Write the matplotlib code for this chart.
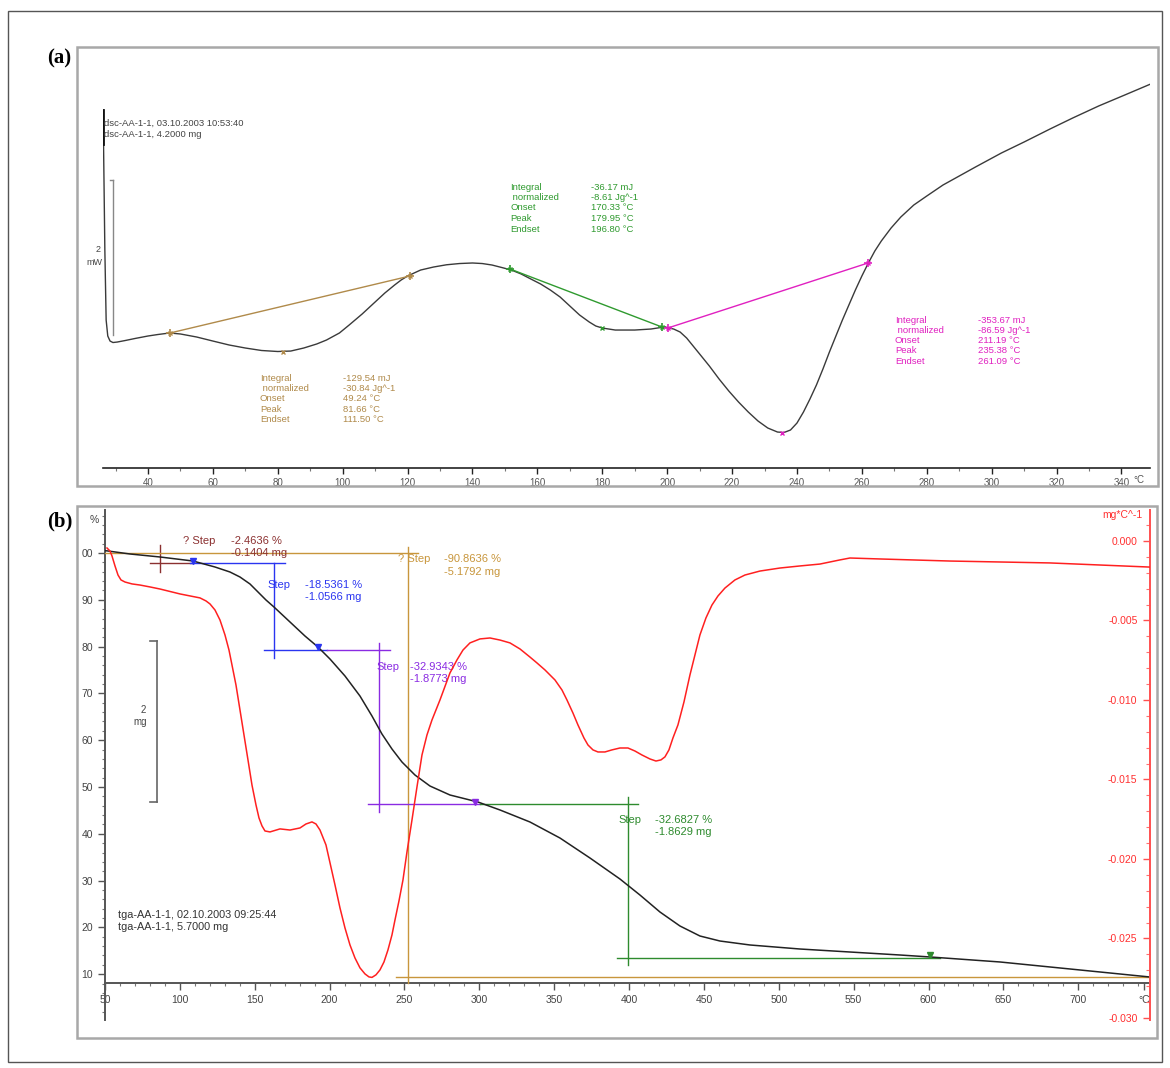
import matplotlib
matplotlib.use("Agg")
import matplotlib.pyplot as plt
from matplotlib.patches import Rectangle
from matplotlib.ticker import MultipleLocator

plt.rcParams['font.family'] = ['Liberation Sans', 'DejaVu Sans']

# ---------------- data: panel (a) DSC ----------------
dsc_T = [26.2, 26.3, 26.7, 27.1, 27.6, 28.3, 29.2, 30.5, 33, 36, 40, 43, 46.7, 50, 55, 60, 65,
         70, 75, 80, 84, 88, 92, 95, 99, 102, 106, 110, 113, 116, 118, 120, 124, 128, 132,
         136, 140, 143, 146, 149, 152, 155, 158, 161, 164, 167, 170, 173, 176, 178, 180, 184,
         190, 195, 199, 202, 204, 206, 208, 210, 213, 216, 219, 222, 225, 228, 231, 234, 236,
         238, 240, 242, 244, 246, 248, 250, 252, 254, 256, 258, 260, 262, 264, 266, 269, 272,
         276, 280, 285, 290, 295, 303, 310, 318, 325, 333, 341, 349]
dsc_mW = [3.742, 3.290, 1.935, 1.032, 0.826, 0.761, 0.742, 0.748, 0.768, 0.794, 0.826, 0.845,
          0.865, 0.852, 0.813, 0.761, 0.710, 0.671, 0.639, 0.626, 0.632, 0.671, 0.723, 0.774,
          0.865, 0.968, 1.110, 1.265, 1.381, 1.484, 1.548, 1.600, 1.677, 1.716, 1.745, 1.761,
          1.768, 1.761, 1.742, 1.710, 1.677, 1.626, 1.561, 1.497, 1.419, 1.329, 1.213, 1.097,
          1.006, 0.955, 0.929, 0.903, 0.903, 0.916, 0.942, 0.916, 0.877, 0.800, 0.697, 0.594,
          0.439, 0.271, 0.116, -0.026, -0.155, -0.271, -0.361, -0.413, -0.419, -0.387, -0.297,
          -0.155, 0.013, 0.194, 0.400, 0.619, 0.826, 1.032, 1.226, 1.419, 1.600, 1.768, 1.923,
          2.052, 2.219, 2.361, 2.516, 2.632, 2.774, 2.890, 3.006, 3.187, 3.329, 3.497, 3.639,
          3.794, 3.935, 4.077]

base_brown_T = [46.8, 120.7]
base_brown_mW = [0.865, 1.600]
base_green_T = [151.6, 198.4]
base_green_mW = [1.690, 0.942]
base_pink_T = [200.2, 261.9]
base_pink_mW = [0.929, 1.768]
peak_T = [81.7, 180.0, 235.4]
peak_mW = [0.626, 0.929, -0.419]

ann_keys = ["Integral", " normalized", "Onset", "Peak", "Endset"]
ann_brown = ["-129.54 mJ", "-30.84 Jg^-1", "49.24 °C", "81.66 °C", "111.50 °C"]
ann_green = ["-36.17 mJ", "-8.61 Jg^-1", "170.33 °C", "179.95 °C", "196.80 °C"]
ann_pink = ["-353.67 mJ", "-86.59 Jg^-1", "211.19 °C", "235.38 °C", "261.09 °C"]

dsc_xticks = list(range(40, 341, 20))

# ---------------- data: panel (b) TGA / DTG ----------------
tga_T = [50, 52.0, 66.69, 86.73, 108.76, 123.46, 133.47, 140.15, 146.83, 152.17, 157.51,
         162.85, 173.54, 183.56, 192.24, 200.25, 210.27, 220.28, 228.30, 234.97, 241.65,
         248.33, 257.01, 267.03, 280.38, 299.08, 313.78, 333.81, 353.84, 373.87, 393.91,
         407.26, 420.62, 433.97, 447.33, 460.68, 480.72, 514.11, 547.50, 580.89, 600.92,
         647.67, 701.09, 747.83]
tga_pct = [100.5, 100.43, 99.79, 99.15, 98.29, 97.01, 95.94, 94.87, 93.38, 91.67, 89.96,
           88.46, 85.26, 82.26, 79.91, 77.35, 73.72, 69.44, 65.17, 61.32, 58.12, 55.34, 52.56,
           50.21, 48.29, 46.79, 45.09, 42.52, 39.10, 34.83, 30.34, 26.92, 23.29, 20.30, 18.16,
           17.09, 16.24, 15.38, 14.74, 14.10, 13.68, 12.61, 10.90, 9.40]

dtg_T = [51.34, 53.34, 54.67, 56.68, 58.68, 60.68, 63.36, 68.03, 73.37, 80.05, 86.73, 100.08,
         113.44, 117.45, 120.12, 123.46, 126.79, 130.13, 132.81, 134.81, 137.48, 140.15,
         142.82, 145.49, 148.16, 150.83, 152.84, 154.84, 156.84, 160.18, 166.86, 173.54,
         180.22, 184.22, 188.23, 190.90, 193.57, 197.58, 203.59, 206.93, 210.27, 213.61,
         216.95, 220.28, 223.62, 226.29, 228.30, 230.97, 233.64, 236.31, 238.98, 241.65,
         243.66, 246.33, 249.00, 251.67, 255.01, 258.35, 261.69, 265.03, 268.36, 273.71,
         280.38, 285.06, 289.07, 293.74, 300.42, 307.10, 313.78, 320.45, 327.13, 333.81,
         338.48, 343.82, 350.50, 355.18, 358.52, 362.52, 365.86, 369.87, 372.54, 375.88,
         379.22, 383.89, 388.56, 393.91, 399.25, 403.92, 408.60, 413.94, 417.95, 421.29,
         423.96, 426.63, 429.30, 432.64, 436.65, 440.65, 443.99, 447.33, 451.34, 455.34,
         459.35, 464.02, 470.70, 477.38, 487.40, 500.75, 514.11, 527.47, 540.82, 547.50,
         567.53, 614.27, 681.05, 747.83]
dtg_val = [-0.00044, -0.00063, -0.00094, -0.00157, -0.00214, -0.00245, -0.00258, -0.00270,
           -0.00277, -0.00289, -0.00302, -0.00333, -0.00358, -0.00377, -0.00396, -0.00434,
           -0.00497, -0.00591, -0.00686, -0.00780, -0.00906, -0.01063, -0.01220, -0.01377,
           -0.01535, -0.01660, -0.01742, -0.01792, -0.01824, -0.01830, -0.01811, -0.01818,
           -0.01805, -0.01780, -0.01767, -0.01780, -0.01818, -0.01912, -0.02163, -0.02308,
           -0.02434, -0.02541, -0.02623, -0.02685, -0.02723, -0.02742, -0.02745, -0.02729,
           -0.02698, -0.02648, -0.02572, -0.02478, -0.02384, -0.02264, -0.02132, -0.01956,
           -0.01755, -0.01547, -0.01346, -0.01220, -0.01126, -0.01000, -0.00830, -0.00748,
           -0.00686, -0.00641, -0.00616, -0.00610, -0.00623, -0.00641, -0.00679, -0.00730,
           -0.00767, -0.00811, -0.00874, -0.00937, -0.01000, -0.01082, -0.01157, -0.01239,
           -0.01283, -0.01314, -0.01327, -0.01327, -0.01314, -0.01302, -0.01302, -0.01321,
           -0.01346, -0.01371, -0.01384, -0.01377, -0.01358, -0.01314, -0.01239, -0.01157,
           -0.01013, -0.00843, -0.00717, -0.00591, -0.00484, -0.00403, -0.00346, -0.00296,
           -0.00245, -0.00214, -0.00189, -0.00170, -0.00157, -0.00145, -0.00119, -0.00107,
           -0.00113, -0.00126, -0.00138, -0.00164]

# step evaluation construction lines (T, %)
step_q_lines = [([86.7, 86.7], [101.7, 95.9]), ([80.0, 108.8], [97.86, 97.86])]
step_orange_lines = [([46.7, 259.0], [100.0, 100.0]), ([252.3, 252.3], [101.3, 8.2]),
                     ([244.3, 747.8], [9.4, 9.4])]
step_blue_lines = [([106.8, 170.2], [97.86, 97.86]), ([162.9, 162.9], [97.86, 77.6]),
                   ([156.2, 198.2], [79.27, 79.27])]
step_purple_lines = [([198.2, 240.3], [79.27, 79.27]), ([233.0, 233.0], [80.8, 44.7]),
                     ([225.6, 300.4], [46.4, 46.4])]
step_green_lines = [([300.4, 405.9], [46.4, 46.4]), ([399.2, 399.2], [47.9, 12.0]),
                    ([391.9, 607.6], [13.46, 13.46])]
step_markers_T = [108.8, 192.2, 297.1, 600.9]
step_markers_pct = [98.3, 79.9, 46.8, 14.1]

tga_xticks = list(range(50, 701, 50))
tga_yticks = list(range(10, 101, 10))
tga_ylabels = [str(v) for v in tga_yticks[:-1]] + ["00"]
dtg_yticks = [0.0, -0.005, -0.010, -0.015, -0.020, -0.025, -0.030]

# ---------------- figure ----------------
W, H = 1170, 1068
fig = plt.figure(figsize=(W / 100, H / 100), dpi=100)


def frect(x0, y0, x1, y1):
    return [x0 / W, 1 - y1 / H, (x1 - x0) / W, (y1 - y0) / H]


def box(x0, y0, x1, y1, color, lw):
    r = frect(x0, y0, x1, y1)
    fig.add_artist(Rectangle((r[0], r[1]), r[2], r[3], transform=fig.transFigure,
                             fill=False, edgecolor=color, linewidth=lw))


box(8, 11, 1162, 1062, '#555555', 1.0)
box(77, 47, 1158, 486, '#a8a8a8', 1.8)
box(77, 506, 1157, 1038, '#a8a8a8', 1.8)

fig.text(47 / W, 1 - 58 / H, "(a)", family='Liberation Serif', fontweight='bold',
         fontsize=15, va='center', ha='left')
fig.text(47 / W, 1 - 521 / H, "(b)", family='Liberation Serif', fontweight='bold',
         fontsize=15, va='center', ha='left')

tick_col = '#555555'

# ---------------- panel (a) ----------------
axA = fig.add_axes(frect(103, 50, 1150, 468))
axA.set_xlim(26.13, 348.8)
axA.set_ylim(-0.877, 4.516)
for s in ['top', 'right', 'left']:
    axA.spines[s].set_visible(False)
axA.spines['bottom'].set_color('#222222')
axA.spines['bottom'].set_linewidth(1.2)
axA.set_yticks([])
axA.set_xticks(dsc_xticks)
axA.xaxis.set_minor_locator(MultipleLocator(10))
axA.tick_params(axis='x', which='major', direction='out', length=4, width=1,
                colors='#222222', labelcolor=tick_col, labelsize=7, pad=3)
axA.tick_params(axis='x', which='minor', direction='out', length=2, width=0.8, colors='#777777')
axA.set_xticklabels([str(v) for v in dsc_xticks])
axA.text(343.8, -1.03, "°C", color=tick_col, fontsize=7, ha='left', va='center', clip_on=False)

axA.plot(dsc_T, dsc_mW, color='#3a3a3a', lw=1.0)
brown, green, pink = '#b08a4a', '#2f9a2f', '#e020c0'
axA.plot(base_brown_T, base_brown_mW, color=brown, lw=1.0)
axA.plot(base_green_T, base_green_mW, color=green, lw=1.0)
axA.plot(base_pink_T, base_pink_mW, color=pink, lw=1.0)
for xs, ys, c in [(base_brown_T, base_brown_mW, brown), (base_green_T, base_green_mW, green),
                  (base_pink_T, base_pink_mW, pink)]:
    axA.plot(xs, ys, ls='none', marker='+', ms=6, mew=1.2, color=c)
    axA.plot(xs, ys, ls='none', marker='x', ms=3, mew=1.0, color=c)
axA.plot(peak_T[0], peak_mW[0], ls='none', marker='x', ms=3, color=brown)
axA.plot(peak_T[1], peak_mW[1], ls='none', marker='x', ms=3, color=green)
axA.plot(peak_T[2], peak_mW[2], ls='none', marker='x', ms=3, color=pink)

# scale bar 2 mW
axA.plot([29.2, 29.2], [2.839, 0.839], color='#888888', lw=1.0, clip_on=False)
axA.plot([28.2, 29.2], [2.839, 2.839], color='#888888', lw=1.0, clip_on=False)
axA.plot([26.2, 26.2], [3.742, 3.30], color='#111111', lw=2.0)
axA.text(24.6, 1.94, "2", fontsize=6.5, color='#444444', ha='center', va='center')
axA.text(23.6, 1.78, "mW", fontsize=6.5, color='#444444', ha='center', va='center')

axA.text(26.5, 3.574, "dsc-AA-1-1, 03.10.2003 10:53:40", fontsize=6.8, color='#444444', va='center')
axA.text(26.5, 3.432, "dsc-AA-1-1, 4.2000 mg", fontsize=6.8, color='#444444', va='center')

rows_green = [2.748, 2.619, 2.490, 2.348, 2.206]
rows_brown = [0.284, 0.155, 0.026, -0.116, -0.245]
rows_pink = [1.032, 0.903, 0.774, 0.645, 0.503]
for (kx, vx, rows, vals, c) in [(151.6, 176.6, rows_green, ann_green, green),
                                (74.5, 100.0, rows_brown, ann_brown, brown),
                                (270.2, 295.8, rows_pink, ann_pink, pink)]:
    for k, v, r in zip(ann_keys, vals, rows):
        axA.text(kx, r, k, fontsize=6.8, color=c, va='center', ha='left')
        axA.text(vx, r, v, fontsize=6.8, color=c, va='center', ha='left')

# ---------------- panel (b) ----------------
axB = fig.add_axes(frect(105, 510, 1150, 1020))
axB.set_xlim(50, 747.9)
axB.set_ylim(0.21, 109.19)
axB.spines['top'].set_visible(False)
axB.spines['right'].set_visible(False)
axB.spines['bottom'].set_position(('data', 8.12))
axB.spines['bottom'].set_color('#555555')
axB.spines['left'].set_color('#555555')
axB.spines['bottom'].set_linewidth(1.4)
axB.spines['left'].set_linewidth(1.4)
axB.set_xticks(tga_xticks + [744])
axB.set_xticklabels([str(v) for v in tga_xticks] + ["°C"])
axB.xaxis.set_minor_locator(MultipleLocator(10))
axB.set_yticks(tga_yticks)
axB.set_yticklabels(tga_ylabels)
axB.yaxis.set_minor_locator(MultipleLocator(2))
axB.tick_params(axis='both', which='major', direction='out', length=5, width=1,
                colors='#555555', labelcolor='#444444', labelsize=7.5)
axB.tick_params(axis='both', which='minor', direction='out', length=2.5, width=0.8,
                colors='#777777')
axB.text(46.0, 107.0, "%", fontsize=7.5, color='#444444', ha='right', va='center', clip_on=False)

axB.plot(tga_T, tga_pct, color='#222222', lw=1.1, zorder=4)

dark_red, orange, blue, purple, dgreen = '#8b3030', '#c8963c', '#2a35f0', '#8a2be2', '#2e8b2e'
for lines, c in [(step_q_lines, dark_red), (step_orange_lines, orange), (step_blue_lines, blue),
                 (step_purple_lines, purple), (step_green_lines, dgreen)]:
    for xs, ys in lines:
        axB.plot(xs, ys, color=c, lw=1.0, zorder=3)
for t, p, c in zip(step_markers_T, step_markers_pct, [blue, blue, purple, dgreen]):
    axB.plot(t, p, ls='none', marker='v', ms=4, color=c, zorder=5)

fs_b = 8
axB.text(102.1, 102.6, "? Step", color=dark_red, fontsize=fs_b, va='center')
axB.text(134.3, 102.6, "-2.4636 %", color=dark_red, fontsize=fs_b, va='center')
axB.text(134.3, 100.0, "-0.1404 mg", color=dark_red, fontsize=fs_b, va='center')
axB.text(245.7, 98.7, "? Step", color=orange, fontsize=fs_b, va='center')
axB.text(276.4, 98.7, "-90.8636 %", color=orange, fontsize=fs_b, va='center')
axB.text(276.4, 96.0, "-5.1792 mg", color=orange, fontsize=fs_b, va='center')
axB.text(158.8, 93.2, "Step", color=blue, fontsize=fs_b, va='center')
axB.text(183.6, 93.2, "-18.5361 %", color=blue, fontsize=fs_b, va='center')
axB.text(183.6, 90.6, "-1.0566 mg", color=blue, fontsize=fs_b, va='center')
axB.text(231.0, 75.6, "Step", color=purple, fontsize=fs_b, va='center')
axB.text(253.7, 75.6, "-32.9343 %", color=purple, fontsize=fs_b, va='center')
axB.text(253.7, 73.1, "-1.8773 mg", color=purple, fontsize=fs_b, va='center')
axB.text(392.6, 42.95, "Step", color=dgreen, fontsize=fs_b, va='center')
axB.text(417.3, 42.95, "-32.6827 %", color=dgreen, fontsize=fs_b, va='center')
axB.text(417.3, 40.4, "-1.8629 mg", color=dgreen, fontsize=fs_b, va='center')

# scale bar 2 mg
axB.plot([84.7, 84.7], [81.2, 46.8], color='#666666', lw=1.2)
axB.plot([80.0, 84.7], [81.2, 81.2], color='#666666', lw=1.2)
axB.plot([80.0, 84.7], [46.8, 46.8], color='#666666', lw=1.2)
axB.text(75.4, 66.5, "2", fontsize=7, color='#444444', ha='center', va='center')
axB.text(73.4, 63.9, "mg", fontsize=7, color='#444444', ha='center', va='center')

axB.text(58.7, 22.6, "tga-AA-1-1, 02.10.2003 09:25:44", fontsize=7.8, color='#333333', va='center')
axB.text(58.7, 20.1, "tga-AA-1-1, 5.7000 mg", fontsize=7.8, color='#333333', va='center')

axR = axB.twinx()
axR.set_ylim(-0.03013, 0.00195)
for s in ['top', 'left', 'bottom']:
    axR.spines[s].set_visible(False)
axR.spines['right'].set_color('#ff5050')
axR.spines['right'].set_linewidth(1.4)
axR.set_yticks(dtg_yticks)
axR.set_yticklabels(["%.3f" % v if v != 0 else "0.000" for v in dtg_yticks])
axR.yaxis.set_minor_locator(MultipleLocator(0.001))
axR.tick_params(axis='y', which='major', direction='in', length=5, width=1, colors='#ff5050',
                labelcolor='#ff3030', labelsize=7.5, pad=-9)
axR.tick_params(axis='y', which='minor', direction='in', length=3, width=0.8, colors='#ff7070')
for lbl in axR.get_yticklabels():
    lbl.set_horizontalalignment('right')
axR.plot(dtg_T, dtg_val, color='#ff2020', lw=1.1, zorder=3)
axR.text(743, 0.00165, "mg*C^-1", fontsize=7.5, color='#ff3030', ha='right', va='center')

fig.savefig("out.png", dpi=100)
